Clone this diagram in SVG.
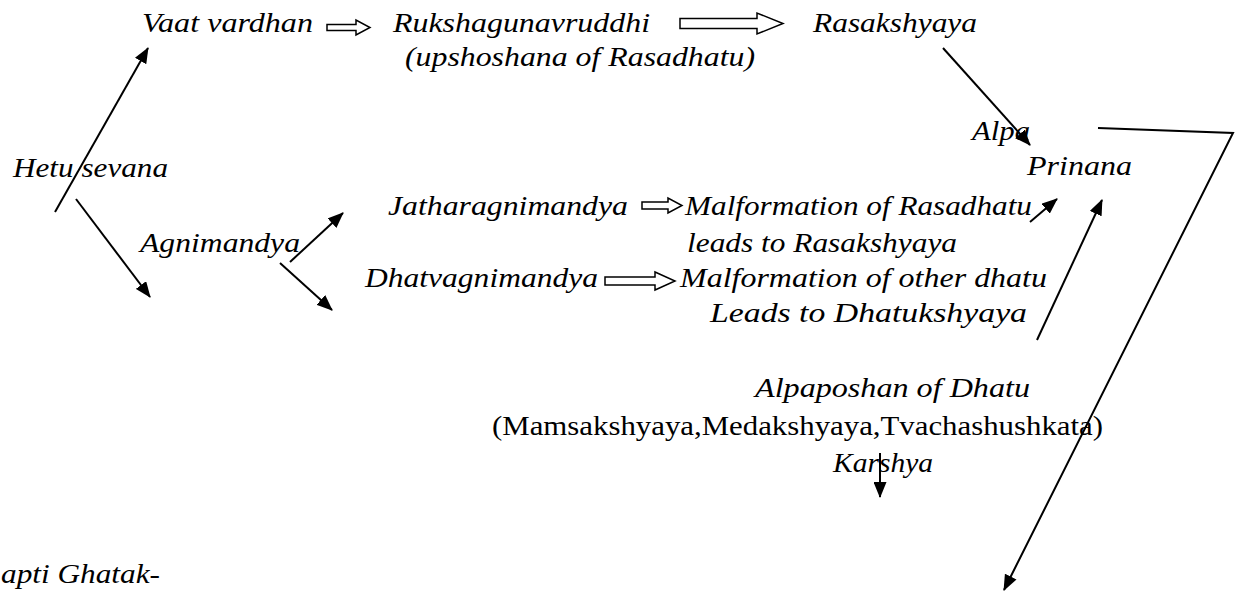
<svg xmlns="http://www.w3.org/2000/svg" width="1242" height="593" viewBox="0 0 1242 593">
<style>
text{font-family:"Liberation Serif","Times New Roman",serif;font-size:27px;fill:#000}
.t{font-style:italic}
.c{stroke:#000;stroke-width:2;fill:none}
.h{stroke:#000;stroke-width:1.5;fill:#fff;stroke-linejoin:miter}
</style>
<defs>
<marker id="ah" viewBox="0 0 16 13" refX="15" refY="6.5" markerWidth="16" markerHeight="13" markerUnits="userSpaceOnUse" orient="auto">
<path d="M0,0 L16,6.5 L0,13 z" fill="#000"/>
</marker>
</defs>
<rect width="1242" height="593" fill="#fff"/>
<g id="vaat"><text class="t" x="142" y="32" textLength="171" lengthAdjust="spacingAndGlyphs">Vaat vardhan</text></g>
<g id="ruksha">
<text class="t" x="393" y="32" textLength="257" lengthAdjust="spacingAndGlyphs">Rukshagunavruddhi</text>
<text class="t" x="405" y="66" textLength="350" lengthAdjust="spacingAndGlyphs">(upshoshana of Rasadhatu)</text>
</g>
<g id="rasakshyaya"><text class="t" x="813" y="32" textLength="164" lengthAdjust="spacingAndGlyphs">Rasakshyaya</text></g>
<g id="alpaprinana">
<text class="t" x="972" y="140" textLength="58" lengthAdjust="spacingAndGlyphs">Alpa</text>
<text class="t" x="1027" y="175" textLength="105" lengthAdjust="spacingAndGlyphs">Prinana</text>
</g>
<g id="hetu"><text class="t" x="13" y="177" textLength="155" lengthAdjust="spacingAndGlyphs">Hetu sevana</text></g>
<g id="agni"><text class="t" x="140" y="252" textLength="160" lengthAdjust="spacingAndGlyphs">Agnimandya</text></g>
<g id="jathar"><text class="t" x="388" y="215" textLength="240" lengthAdjust="spacingAndGlyphs">Jatharagnimandya</text></g>
<g id="malras">
<text class="t" x="685" y="215" textLength="347" lengthAdjust="spacingAndGlyphs">Malformation of Rasadhatu</text>
<text class="t" x="687" y="252" textLength="270" lengthAdjust="spacingAndGlyphs">leads to Rasakshyaya</text>
</g>
<g id="dhatv"><text class="t" x="365" y="287" textLength="233" lengthAdjust="spacingAndGlyphs">Dhatvagnimandya</text></g>
<g id="maloth">
<text class="t" x="680" y="287" textLength="367" lengthAdjust="spacingAndGlyphs">Malformation of other dhatu</text>
<text class="t" x="710" y="322" textLength="317" lengthAdjust="spacingAndGlyphs">Leads to Dhatukshyaya</text>
</g>
<g id="alpaposhan">
<text class="t" x="755" y="397" textLength="275" lengthAdjust="spacingAndGlyphs">Alpaposhan of Dhatu</text>
<text x="492" y="435" textLength="611" lengthAdjust="spacingAndGlyphs">(Mamsakshyaya,Medakshyaya,Tvachashushkata)</text>
<text class="t" x="833" y="472" textLength="100" lengthAdjust="spacingAndGlyphs">Karshya</text>
</g>
<g id="ghatak"><text class="t" x="1" y="583" textLength="159" lengthAdjust="spacingAndGlyphs">apti Ghatak-</text></g>
<g id="connectors">
<path class="h" d="M327,24.5 H356 V20 L370,27.5 L356,35 V30.5 H327 Z"/>
<path class="h" d="M680,18.5 H757 V13 L783,23.5 L757,34 V28.5 H680 Z"/>
<path class="h" d="M642,202 H668 V198 L682,205.5 L668,213 V209 H642 Z"/>
<path class="h" d="M605,277 H655 V272 L675,281 L655,290 V285 H605 Z"/>
<line class="c" x1="55" y1="212" x2="148" y2="48" marker-end="url(#ah)"/>
<line class="c" x1="76" y1="199" x2="150" y2="297" marker-end="url(#ah)"/>
<line class="c" x1="290" y1="262" x2="343" y2="213" marker-end="url(#ah)"/>
<line class="c" x1="280" y1="263" x2="332" y2="310" marker-end="url(#ah)"/>
<line class="c" x1="943" y1="48" x2="1030" y2="145" marker-end="url(#ah)"/>
<line class="c" x1="1030" y1="222" x2="1057" y2="199" marker-end="url(#ah)"/>
<line class="c" x1="1037" y1="340" x2="1102" y2="200" marker-end="url(#ah)"/>
<line class="c" x1="880" y1="453" x2="880" y2="497" marker-end="url(#ah)"/>
<polyline class="c" points="1098,128 1233,133 1004,590" marker-end="url(#ah)"/>
</g>
</svg>
